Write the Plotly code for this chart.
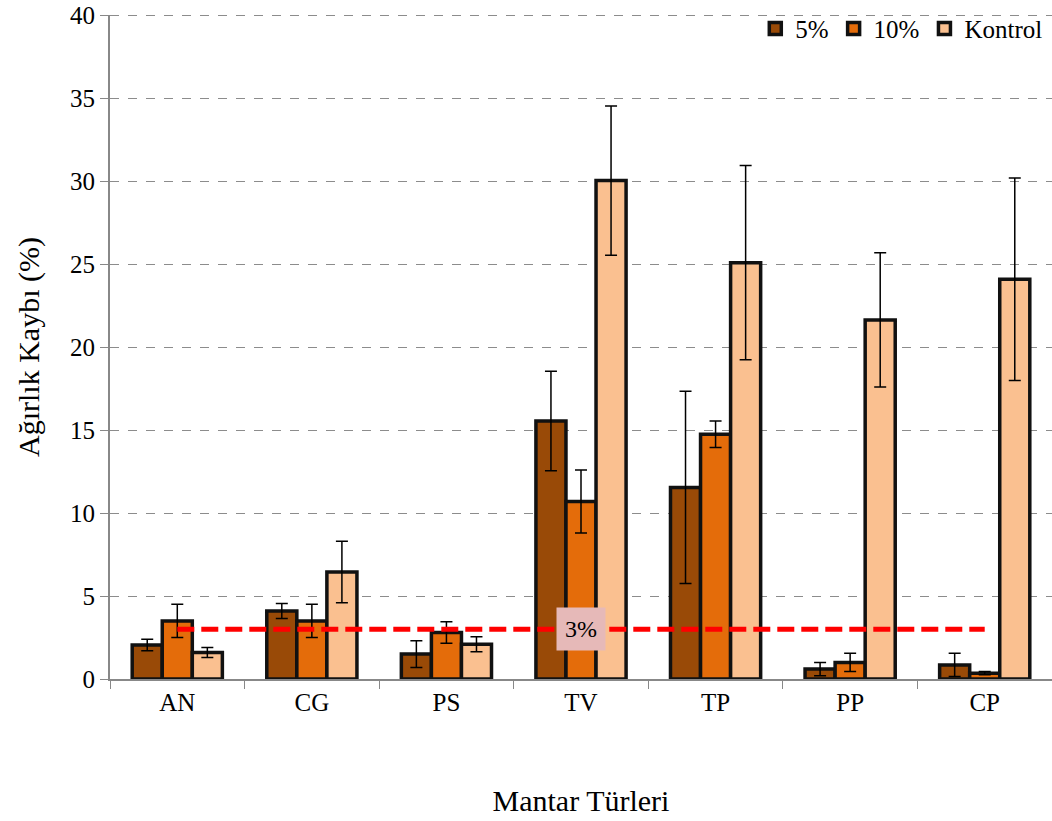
import plotly.graph_objects as go

categories = ["AN", "CG", "PS", "TV", "TP", "PP", "CP"]
series_names = ["5%", "10%", "Kontrol"]
vals_5 = [2.05, 4.1, 1.5, 15.55, 11.55, 0.6, 0.85]
err_5 = [0.35, 0.45, 0.8, 3.0, 5.8, 0.4, 0.7]
vals_10 = [3.5, 3.5, 2.8, 10.7, 14.75, 1.0, 0.35]
err_10 = [1.0, 1.0, 0.65, 1.9, 0.8, 0.55, 0.1]
vals_k = [1.6, 6.45, 2.1, 30.05, 25.1, 21.65, 24.1]
err_k = [0.3, 1.85, 0.45, 4.5, 5.85, 4.05, 6.1]
threshold = 3
threshold_label = "3%"
y_max = 40

colors = ["#994A07", "#E46C0A", "#FAC090"]
FONT = "Liberation Serif, Times New Roman, serif"

fig = go.Figure()
for name, v, e, c in zip(series_names, [vals_5, vals_10, vals_k], [err_5, err_10, err_k], colors):
    fig.add_trace(go.Bar(
        x=categories, y=v, name=name,
        marker=dict(color=c, line=dict(color="#111111", width=3.5)),
        error_y=dict(type="data", array=e, visible=True, color="black", thickness=1.5, width=6),
    ))

fig.add_trace(go.Scatter(
    x=[categories[0], categories[-1]], y=[threshold, threshold],
    mode="lines", line=dict(color="#FF0000", width=5, dash="17px,7px"),
    showlegend=False, hoverinfo="skip",
))

fig.add_annotation(
    x=categories[3], y=threshold, text=threshold_label, showarrow=False,
    bgcolor="#E6B9B8", font=dict(family=FONT, size=24, color="black"),
    borderpad=8,
)

# top gridline at the range edge
fig.add_shape(type="line", xref="paper", yref="y", x0=0, x1=1, y0=y_max, y1=y_max,
              line=dict(color="#8C8C8C", width=1, dash="dash"), layer="below")

fig.update_layout(
    width=1052, height=821,
    margin=dict(l=110, r=0, t=15, b=142, autoexpand=False),
    paper_bgcolor="white", plot_bgcolor="white",
    barmode="group", bargap=0.33, bargroupgap=0,
    font=dict(family=FONT, size=25, color="black"),
    legend=dict(orientation="h", x=0.995, xanchor="right", y=1.014, yanchor="top",
                bgcolor="rgba(255,255,255,0)", font=dict(family=FONT, size=25),
                itemwidth=30, tracegroupgap=0),
    showlegend=True,
)

fig.update_xaxes(
    type="category", tickson="boundaries", ticks="outside", ticklen=8,
    tickcolor="#888888", showline=True, linecolor="#888888", linewidth=2,
    showgrid=False, automargin=False,
    tickfont=dict(family=FONT, size=25),
    title=dict(text="Mantar Türleri", font=dict(family=FONT, size=30), standoff=75),
)
fig.update_yaxes(
    range=[0, 40.03], tickvals=[0, 5, 10, 15, 20, 25, 30, 35, 40],
    ticks="outside", ticklen=8, tickcolor="#888888",
    showline=True, linecolor="#888888", linewidth=2,
    showgrid=True, gridcolor="#8C8C8C", griddash="dash", gridwidth=1,
    zeroline=False, automargin=False, ticklabeloverflow="allow",
    tickfont=dict(family=FONT, size=25),
    title=dict(text="Ağırlık Kaybı (%)", font=dict(family=FONT, size=30), standoff=22),
)

fig.write_html("out.html", config={"displayModeBar": False},
               post_script="document.body.style.margin='0';")
